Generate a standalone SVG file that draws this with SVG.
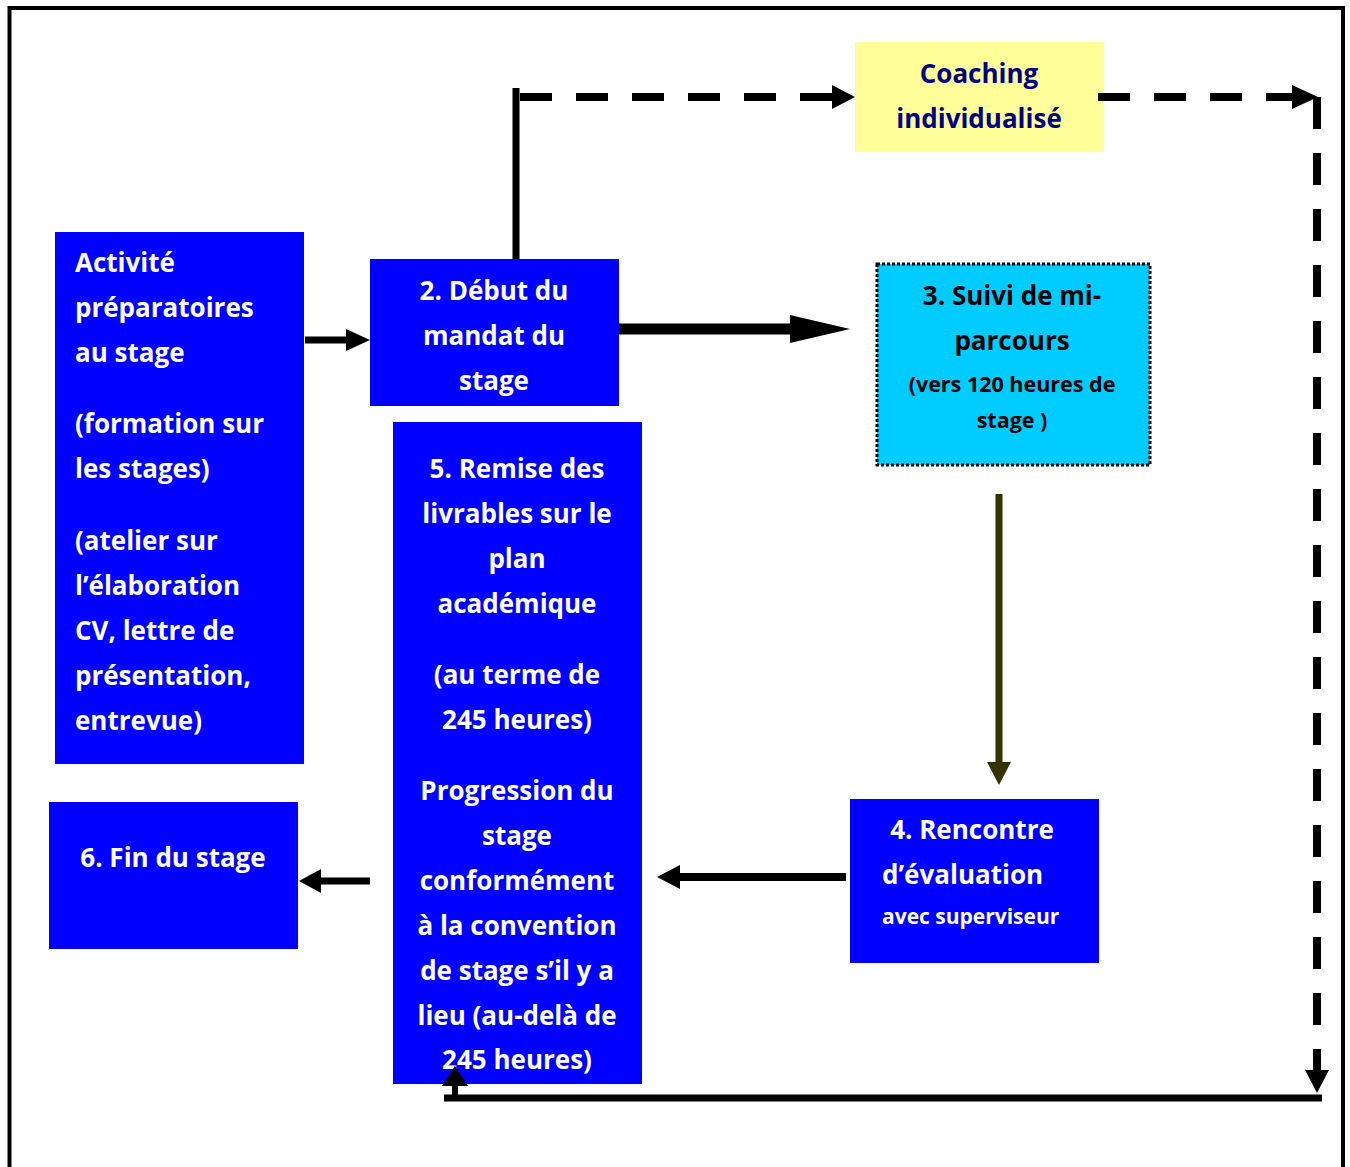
<svg xmlns="http://www.w3.org/2000/svg" width="1350" height="1167" viewBox="0 0 1350 1167">
<defs>
<style>
.t{font-family:"Open Sans",Lato,"Liberation Sans",sans-serif;font-weight:bold;font-size:26px;fill:#fff}
.c{text-anchor:middle}
.blue{fill:#0000FF}
.ln{stroke:#000;fill:none}
.dash{stroke:#000;fill:none;stroke-width:8;stroke-dasharray:32 24}
</style>
</defs>
<rect width="1350" height="1167" fill="#fff"/>
<path d="M9.5,1167V8H1343V1167" class="ln" stroke-width="4"/>

<g id="n1">
<rect x="55" y="232" width="249" height="532" class="blue"/>
<text class="t" x="75" y="272">Activité</text>
<text class="t" x="75" y="317">préparatoires</text>
<text class="t" x="75" y="362">au stage</text>
<text class="t" x="75" y="433">(formation sur</text>
<text class="t" x="75" y="478">les stages)</text>
<text class="t" x="75" y="550">(atelier sur</text>
<text class="t" x="75" y="595">l’élaboration</text>
<text class="t" x="75" y="640">CV, lettre de</text>
<text class="t" x="75" y="685">présentation,</text>
<text class="t" x="75" y="730">entrevue)</text>
</g>

<g id="n2">
<rect x="370" y="259" width="249" height="147" class="blue"/>
<text class="t c" x="494" y="300">2. Début du</text>
<text class="t c" x="494" y="345">mandat du</text>
<text class="t c" x="494" y="390">stage</text>
</g>

<g id="coaching">
<rect x="855" y="42" width="249" height="110" fill="#FFFF99"/>
<text class="t c" x="979" y="83" style="fill:#000080">Coaching</text>
<text class="t c" x="979" y="128" style="fill:#000080">individualisé</text>
</g>

<g id="n3">
<rect x="877" y="264" width="273" height="201" fill="#00CCFF" stroke="#000" stroke-width="3" stroke-dasharray="3 2"/>
<text class="t c" x="1012" y="305" style="fill:#000">3. Suivi de mi-</text>
<text class="t c" x="1012" y="350" style="fill:#000">parcours</text>
<text class="t c" x="1012" y="392" style="fill:#000;font-size:21.5px">(vers 120 heures de</text>
<text class="t c" x="1012" y="428" style="fill:#000;font-size:21.5px">stage )</text>
</g>

<g id="n4">
<rect x="850" y="799" width="249" height="164" class="blue"/>
<text class="t c" x="972" y="839">4. Rencontre</text>
<text class="t" x="882" y="884">d’évaluation</text>
<text class="t" x="882" y="924" style="font-size:21px">avec superviseur</text>
</g>

<g id="n5">
<rect x="393" y="422" width="249" height="662" class="blue"/>
<text class="t c" x="517" y="478">5. Remise des</text>
<text class="t c" x="517" y="523">livrables sur le</text>
<text class="t c" x="517" y="568">plan</text>
<text class="t c" x="517" y="613">académique</text>
<text class="t c" x="517" y="684">(au terme de</text>
<text class="t c" x="517" y="729">245 heures)</text>
<text class="t c" x="517" y="800">Progression du</text>
<text class="t c" x="517" y="845">stage</text>
<text class="t c" x="517" y="890">conformément</text>
<text class="t c" x="517" y="935">à la convention</text>
<text class="t c" x="517" y="980">de stage s’il y a</text>
<text class="t c" x="517" y="1025">lieu (au-delà de</text>
<text class="t c" x="517" y="1069">245 heures)</text>
</g>

<g id="n6">
<rect x="49" y="802" width="249" height="147" class="blue"/>
<text class="t c" x="173" y="867">6. Fin du stage</text>
</g>

<g id="connectors">
<line x1="305" y1="340" x2="346" y2="340" class="ln" stroke-width="7"/>
<path d="M346,329L370,340L346,351z" fill="#000"/>
<line x1="619" y1="329" x2="792" y2="329" class="ln" stroke-width="11"/>
<path d="M790,315L850,329L790,343z" fill="#000"/>
<line x1="516" y1="259" x2="516" y2="88" class="ln" stroke-width="7"/>
<path d="M516,97H832" class="dash" stroke-dashoffset="-4"/>
<path d="M832,85L855,97L832,109z" fill="#000"/>
<path d="M1098,97H1290" class="dash"/>
<path d="M1266,97H1300" class="ln" stroke-width="8"/>
<path d="M1292,85L1318,97L1292,109z" fill="#000"/>
<path d="M1317,93V1070" class="dash" stroke-dashoffset="-4"/>
<path d="M1317,1055V1072" class="ln" stroke-width="7"/>
<path d="M1305,1070L1317,1093L1329,1070z" fill="#000"/>
<line x1="444" y1="1098" x2="1322" y2="1098" class="ln" stroke-width="7"/>
<line x1="455" y1="1098" x2="455" y2="1084" class="ln" stroke-width="6"/>
<path d="M442,1086L455,1066L468,1086z" fill="#000"/>
<line x1="999" y1="494" x2="999" y2="765" stroke="#333300" stroke-width="7"/>
<path d="M987,762L999,785L1011,762z" fill="#333300"/>
<line x1="846" y1="877" x2="678" y2="877" class="ln" stroke-width="8"/>
<path d="M680,865L657,877L680,889z" fill="#000"/>
<line x1="370" y1="881" x2="320" y2="881" class="ln" stroke-width="7"/>
<path d="M321,869L299,881L321,893z" fill="#000"/>
</g>
</svg>
